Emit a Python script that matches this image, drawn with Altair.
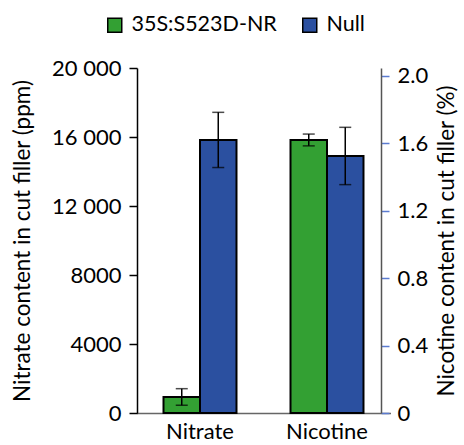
import altair as alt
import pandas as pd

measures = ["Nitrate", "Nicotine"]
genotypes = ["35S:S523D-NR", "Null"]
nitrate_mean = [930, 15830]
nitrate_err = [480, 1600]
nicotine_mean = [1.62, 1.525]
nicotine_err = [0.035, 0.17]
colors = ["#33A033", "#2B50A0"]
left_ticks = [0, 4000, 8000, 12000, 16000, 20000]
right_ticks = [0, 0.4, 0.8, 1.2, 1.6, 2.0]

FONT = "Lato"
FS = 22
TFS = 22.5


def frame(measure, means, errs):
    return pd.DataFrame({
        "measure": measure,
        "genotype": genotypes,
        "value": means,
        "lo": [m - e for m, e in zip(means, errs)],
        "hi": [m + e for m, e in zip(means, errs)],
    })


x_enc = alt.X("measure:N", sort=measures,
              scale=alt.Scale(domain=measures, range=[-0.5, 253.5], paddingInner=0, paddingOuter=0),
              axis=alt.Axis(title=None, ticks=False, labelAngle=0, labelFontSize=FS, labelPadding=8,
                            labelColor="black", domainColor="#666666", domainWidth=1.5))
xo_enc = alt.XOffset("genotype:N", sort=genotypes,
                     scale=alt.Scale(domain=genotypes, paddingInner=0, paddingOuter=0.74))
color_enc = alt.Color("genotype:N", sort=genotypes,
                      scale=alt.Scale(domain=genotypes, range=colors),
                      legend=alt.Legend(title=None, orient="none", legendX=-33, legendY=-54,
                                        direction="horizontal", symbolType="square", symbolSize=196,
                                        symbolStrokeColor="black", symbolStrokeWidth=1.5,
                                        symbolOpacity=1, labelFontSize=21.5, labelColor="black",
                                        columnPadding=22, labelOffset=6))


def panel(df, scale, axis):
    base = alt.Chart(df)
    bars = base.mark_bar(stroke="black", strokeWidth=2).encode(
        x=x_enc, xOffset=xo_enc, color=color_enc,
        y=alt.Y("value:Q", scale=scale, axis=axis))
    stem = base.mark_rule(color="black", strokeWidth=1.5).encode(
        x=x_enc, xOffset=xo_enc,
        y=alt.Y("lo:Q", scale=scale, axis=axis), y2="hi:Q")
    cap_hi = base.mark_tick(orient="horizontal", size=12, thickness=1.5, color="black").encode(
        x=x_enc, xOffset=xo_enc, y=alt.Y("hi:Q", scale=scale, axis=axis))
    cap_lo = base.mark_tick(orient="horizontal", size=12, thickness=1.5, color="black").encode(
        x=x_enc, xOffset=xo_enc, y=alt.Y("lo:Q", scale=scale, axis=axis))
    return alt.layer(bars, stem, cap_hi, cap_lo)


left_axis = alt.Axis(orient="left", values=left_ticks, grid=False, tickSize=8, tickColor="black",
                     tickWidth=1.5, domainColor="black", domainWidth=1.5,
                     labelFontSize=FS, labelColor="black", labelPadding=8,
                     labelExpr="datum.value >= 10000 ? replace(format(datum.value, ','), ',', ' ') : format(datum.value, 'd')",
                     title="Nitrate content in cut filler (ppm)", titleFontSize=TFS, titleFontWeight="normal",
                     titleColor="black", titleAngle=270, titleAlign="center", titleBaseline="middle",
                     titleX=-115, titleY=172.5)
right_axis = alt.Axis(orient="right", values=right_ticks, grid=False, tickSize=8, tickColor="#5B7BD0",
                      tickWidth=1.5, domainColor="#555555", domainWidth=1.5,
                      labelFontSize=FS, labelColor="black", labelPadding=8,
                      labelExpr="datum.value == 0 ? '0' : format(datum.value, '.1f')",
                      title="Nicotine content in cut filler (%)", titleFontSize=TFS, titleFontWeight="normal",
                      titleColor="black", titleAngle=270, titleAlign="center", titleBaseline="middle",
                      titleX=65, titleY=172.5)

left_panel = panel(frame("Nitrate", nitrate_mean, nitrate_err),
                   alt.Scale(domain=[0, 20000], nice=False, zero=True), left_axis)
right_panel = panel(frame("Nicotine", nicotine_mean, nicotine_err),
                    alt.Scale(domain=[0, 2.047], nice=False, zero=True), right_axis)

chart = alt.layer(left_panel, right_panel).resolve_scale(y="independent").properties(
    width=244, height=345,
    autosize=alt.AutoSizeParams(type="none"),
    padding={"left": 137, "top": 68, "right": 83, "bottom": 32},
).configure(font=FONT).configure_view(stroke=None)

chart.save("out.html", embed_options={"renderer": "svg", "actions": False})
